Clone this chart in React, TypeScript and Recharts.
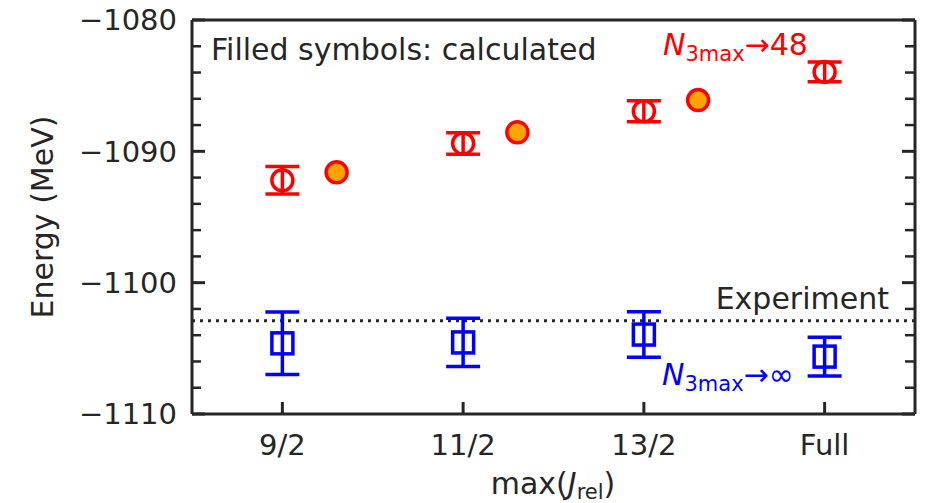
import React from 'react';
import {
    ScatterChart,
    Scatter,
    XAxis,
    YAxis,
    ErrorBar,
    ReferenceLine,
    Customized,
} from 'recharts';

const FONT = '"DejaVu Sans", sans-serif';
const INK = '#262626';

// categories on the x axis
const categories = ['9/2', '11/2', '13/2', 'Full'];
const catPositions = [0, 1, 2, 3];

// N3max -> 48 extrapolation (open red circles)
const n48Energy = [-1092.2, -1089.4, -1086.95, -1083.95];
const n48Err = [1.05, 0.82, 0.8, 0.76];

// calculated values (filled orange circles), drawn a bit right of the category
const calcPositions = [0.3, 1.3, 2.3];
const calcEnergy = [-1091.6, -1088.55, -1086.1];

// N3max -> infinity extrapolation (open blue squares)
const nInfEnergy = [-1104.62, -1104.55, -1103.95, -1105.63];
const nInfErr = [2.38, 1.84, 1.73, 1.47];

const experiment = -1102.9;

const majorYTicks = [-1110, -1100, -1090, -1080];
const minorYTicks = [-1108, -1106, -1104, -1102, -1098, -1096, -1094, -1092, -1088, -1086, -1084, -1082];

const n48Data = catPositions.map((x, i) => ({ x, y: n48Energy[i], err: n48Err[i] }));
const calcData = calcPositions.map((x, i) => ({ x, y: calcEnergy[i] }));
const nInfData = catPositions.map((x, i) => ({ x, y: nInfEnergy[i], err: nInfErr[i] }));

const OpenCircle = (props: any) => (
    <circle cx={props.cx} cy={props.cy} r={10.5} fill="none" stroke="#ff0000" strokeWidth={3.5} />
);

const FilledCircle = (props: any) => (
    <circle cx={props.cx} cy={props.cy} r={10.5} fill="#ffa500" stroke="#ff0000" strokeWidth={3.5} />
);

const OpenSquare = (props: any) => (
    <rect x={props.cx - 10.5} y={props.cy - 10.5} width={21} height={21} fill="none" stroke="#0000ff" strokeWidth={3.5} />
);

const fmtY = (v: number) => (v < 0 ? '\u2212' + Math.abs(v) : String(v));
const noLabel = () => '';

const Annotations = () => (
    <g fontFamily={FONT}>
        <text x={211} y={60} fontSize={30} fill={INK}>Filled symbols: calculated</text>
        <text x={663} y={55} fontSize={30} fill="#ff0000">
            <tspan fontStyle="italic">N</tspan>
            <tspan fontSize={21} dy={6}>3max</tspan>
            <tspan dy={-6}>→48</tspan>
        </text>
        <text x={662} y={385} fontSize={30} fill="#0000ff">
            <tspan fontStyle="italic">N</tspan>
            <tspan fontSize={21} dy={6}>3max</tspan>
            <tspan dy={-6}>→∞</tspan>
        </text>
        <text x={889} y={309} fontSize={30} fill={INK} textAnchor="end">Experiment</text>
        <text transform="translate(53,217) rotate(-90)" fontSize={30} fill={INK} textAnchor="middle">
            Energy (MeV)
        </text>
        <text x={553} y={494} fontSize={30} fill={INK} textAnchor="middle">
            <tspan>max(</tspan>
            <tspan fontStyle="italic">J</tspan>
            <tspan fontSize={21} dy={5}>rel</tspan>
            <tspan dy={-5}>)</tspan>
        </text>
    </g>
);

export default function App() {
    const axisLine = { stroke: INK, strokeWidth: 3 };
    const tickLine = { stroke: INK, strokeWidth: 3 };
    const minorLine = { stroke: INK, strokeWidth: 2.5 };
    const tickText = { fontSize: 29, fill: INK, fontFamily: FONT };

    return (
        <div style={{ position: 'absolute', left: 0, top: 0, background: '#fff' }}>
            <ScatterChart width={925} height={503} margin={{ top: 20, right: 10, bottom: 0, left: 0 }}>
                <XAxis
                    xAxisId="bottom"
                    type="number"
                    dataKey="x"
                    domain={[-0.5, 3.5]}
                    allowDataOverflow
                    ticks={catPositions}
                    interval={0}
                    tickFormatter={(v: number) => categories[v] ?? ''}
                    height={89}
                    tickSize={-12}
                    tickMargin={32}
                    axisLine={axisLine}
                    tickLine={tickLine}
                    tick={tickText}
                />
                <XAxis
                    xAxisId="top"
                    orientation="top"
                    type="number"
                    domain={[-0.5, 3.5]}
                    allowDataOverflow
                    ticks={catPositions}
                    interval={0}
                    mirror
                    height={1}
                    tickSize={12}
                    tickFormatter={noLabel}
                    axisLine={axisLine}
                    tickLine={tickLine}
                />
                <YAxis
                    yAxisId="left"
                    type="number"
                    dataKey="y"
                    domain={[-1110, -1080]}
                    allowDataOverflow
                    ticks={majorYTicks}
                    interval={0}
                    tickFormatter={fmtY}
                    width={192}
                    tickSize={-13}
                    tickMargin={28}
                    axisLine={axisLine}
                    tickLine={tickLine}
                    tick={tickText}
                />
                <YAxis
                    yAxisId="leftMinor"
                    type="number"
                    domain={[-1110, -1080]}
                    allowDataOverflow
                    ticks={minorYTicks}
                    interval={0}
                    mirror
                    width={1}
                    tickSize={9}
                    tickFormatter={noLabel}
                    axisLine={false}
                    tickLine={minorLine}
                />
                <YAxis
                    yAxisId="right"
                    orientation="right"
                    type="number"
                    domain={[-1110, -1080]}
                    allowDataOverflow
                    ticks={majorYTicks}
                    interval={0}
                    mirror
                    width={1}
                    tickSize={13}
                    tickFormatter={noLabel}
                    axisLine={axisLine}
                    tickLine={tickLine}
                />
                <YAxis
                    yAxisId="rightMinor"
                    orientation="right"
                    type="number"
                    domain={[-1110, -1080]}
                    allowDataOverflow
                    ticks={minorYTicks}
                    interval={0}
                    mirror
                    width={1}
                    tickSize={9}
                    tickFormatter={noLabel}
                    axisLine={false}
                    tickLine={minorLine}
                />
                <ReferenceLine
                    xAxisId="bottom"
                    yAxisId="left"
                    y={experiment}
                    stroke={INK}
                    strokeWidth={3}
                    strokeDasharray="3 5"
                />
                <Scatter
                    xAxisId="bottom"
                    yAxisId="left"
                    data={n48Data}
                    shape={OpenCircle}
                    isAnimationActive={false}
                >
                    <ErrorBar dataKey="err" direction="y" width={17} stroke="#ff0000" strokeWidth={3.5} />
                </Scatter>
                <Scatter
                    xAxisId="bottom"
                    yAxisId="left"
                    data={calcData}
                    shape={FilledCircle}
                    isAnimationActive={false}
                />
                <Scatter
                    xAxisId="bottom"
                    yAxisId="left"
                    data={nInfData}
                    shape={OpenSquare}
                    isAnimationActive={false}
                >
                    <ErrorBar dataKey="err" direction="y" width={17} stroke="#0000ff" strokeWidth={3.5} />
                </Scatter>
                <Customized component={Annotations} />
            </ScatterChart>
        </div>
    );
}
